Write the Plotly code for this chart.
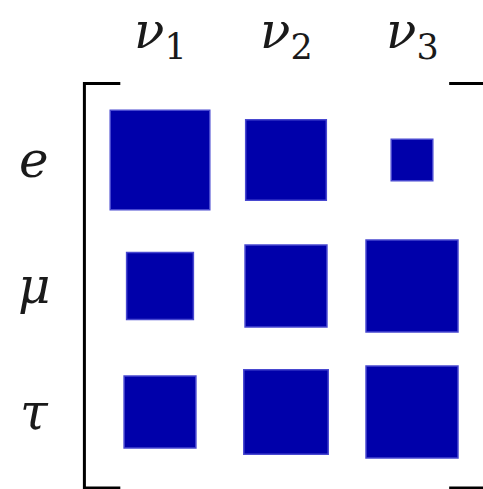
import plotly.graph_objects as go

# Mixing-matrix magnitudes shown as squares (side length in cell units)
flavours = ["e", "μ", "τ"]
mass_states = ["1", "2", "3"]
side_e = [0.79, 0.64, 0.33]
side_mu = [0.53, 0.65, 0.73]
side_tau = [0.57, 0.67, 0.73]
sides = [side_e, side_mu, side_tau]

W, H = 483, 489
unit = 126.0          # pixels per cell
origin = 160.0        # pixel centre of the first cell
x_range = [-origin / unit, (W - origin) / unit]
y_range = [(H - origin) / unit, -origin / unit]

fig = go.Figure()
# invisible trace so the axes exist
fig.add_trace(go.Scatter(x=[0, 2], y=[0, 2], mode="markers",
                         marker=dict(opacity=0), hoverinfo="skip", showlegend=False))

shapes = []
for i, row in enumerate(sides):
    for j, s in enumerate(row):
        shapes.append(dict(
            type="rect", xref="x", yref="y",
            x0=j - s / 2, x1=j + s / 2, y0=i - s / 2, y1=i + s / 2,
            fillcolor="#0000aa", line=dict(color="#4848d0", width=1.5),
            layer="above",
        ))

# matrix brackets
bl, bt, bb = -0.60, -0.607, 2.603
tick = 0.285
br = 2.58
black = dict(color="black", width=3)
shapes.append(dict(type="path", xref="x", yref="y",
                   path=f"M {bl + tick},{bt} L {bl},{bt} L {bl},{bb} L {bl + tick},{bb}",
                   line=black))
shapes.append(dict(type="path", xref="x", yref="y",
                   path=f"M {br - tick},{bt} L {br},{bt} L {br},{bb} L {br - tick},{bb}",
                   line=black))

annotations = []
label_font = dict(family="DejaVu Serif", size=50, color="#1a1a1a")
for j, m in enumerate(mass_states):
    annotations.append(dict(
        x=j, y=-1.0, xref="x", yref="y", showarrow=False,
        text=f"<i>ν</i><sub>{m}</sub>", font=label_font,
        xanchor="center", yanchor="middle",
    ))
for i, f in enumerate(flavours):
    annotations.append(dict(
        x=-1.0, y=i, xref="x", yref="y", showarrow=False,
        text=f"<i>{f}</i>", font=label_font,
        xanchor="center", yanchor="middle",
    ))

fig.update_layout(
    width=W, height=H,
    margin=dict(l=0, r=0, t=0, b=0),
    paper_bgcolor="white", plot_bgcolor="white",
    xaxis=dict(range=x_range, visible=False, fixedrange=True),
    yaxis=dict(range=y_range, visible=False, fixedrange=True),
    shapes=shapes, annotations=annotations,
    showlegend=False,
)

fig.write_html("out.html")
